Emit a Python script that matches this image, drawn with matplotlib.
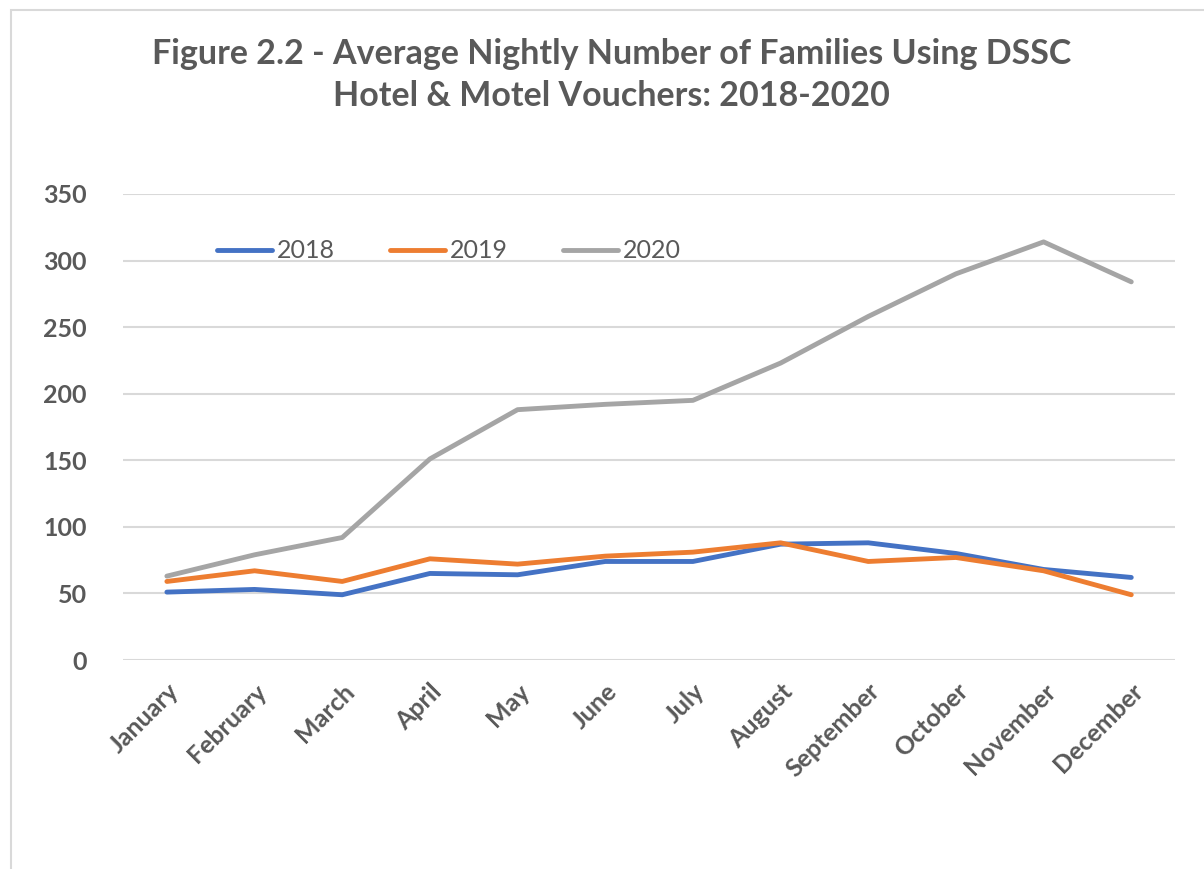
import matplotlib.pyplot as plt
from matplotlib.patches import Rectangle

months = ['January', 'February', 'March', 'April', 'May', 'June', 'July',
          'August', 'September', 'October', 'November', 'December']
y2018 = [51, 53, 49, 65, 64, 74, 74, 87, 88, 80, 68, 62]
y2019 = [59, 67, 59, 76, 72, 78, 81, 88, 74, 77, 67, 49]
y2020 = [63, 79, 92, 151, 188, 192, 195, 223, 258, 290, 314, 284]
yticks = [0, 50, 100, 150, 200, 250, 300, 350]

plt.rcParams['font.family'] = ['Lato', 'DejaVu Sans']
text_col = '#595959'

fig = plt.figure(figsize=(12.04, 8.69), dpi=100)
ax = fig.add_axes([0.1022, 0.2405, 0.8738, 0.5363])

# light frame around the chart, cut off at right and bottom like the original
fig.patches.append(Rectangle((11 / 1204, -0.1), 1.2, (869 - 10) / 869 + 0.1,
                             transform=fig.transFigure, fill=False,
                             edgecolor='#D9D9D9', linewidth=1.5))

x = range(len(months))
ax.plot(x, y2018, color='#4472C4', linewidth=3.5, label='2018', solid_capstyle='round')
ax.plot(x, y2019, color='#ED7D31', linewidth=3.5, label='2019', solid_capstyle='round')
ax.plot(x, y2020, color='#A5A5A5', linewidth=3.5, label='2020', solid_capstyle='round')

ax.set_xlim(-0.5, len(months) - 0.5)
ax.set_ylim(0, 350)
ax.set_yticks(yticks)
ax.set_yticklabels([str(v) for v in yticks], fontsize=18, fontweight='bold', color=text_col)
ax.set_xticks(list(x))
ax.set_xticklabels(months, rotation=45, ha='right', rotation_mode='anchor',
                   fontsize=18, fontweight='bold', color=text_col)
ax.tick_params(axis='both', length=0)
ax.tick_params(axis='y', pad=26)
ax.tick_params(axis='x', pad=14)
ax.grid(axis='y', color='#D9D9D9', linewidth=1.5)
ax.set_axisbelow(True)
for s in ax.spines.values():
    s.set_visible(False)

leg = ax.legend(loc='center left', bbox_to_anchor=(0.068, 0.878), ncol=3,
                frameon=False, fontsize=18, handlelength=2.2,
                columnspacing=2.2, handletextpad=0.2)
for t in leg.get_texts():
    t.set_color(text_col)

fig.text(0.508, 0.914, 'Figure 2.2 - Average Nightly Number of Families Using DSSC\nHotel & Motel Vouchers: 2018-2020',
         ha='center', va='center', fontsize=24.5, fontweight='bold', color=text_col,
         linespacing=1.4)

fig.savefig('out.png', dpi=100)
